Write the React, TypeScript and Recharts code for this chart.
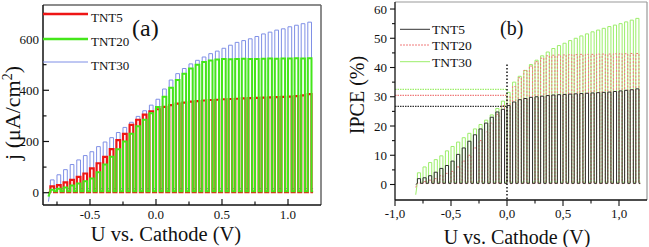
import React from 'react';
import { LineChart, Line, XAxis, YAxis, ReferenceLine } from 'recharts';

// ---------- shared sweep (chopped light, one pulse every 0.05 V) ----------
const pulseStartV = [
  -0.8, -0.75, -0.7, -0.65, -0.6, -0.55, -0.5, -0.45, -0.4, -0.35,
  -0.3, -0.25, -0.2, -0.15, -0.1, -0.05, 0, 0.05, 0.1, 0.15,
  0.2, 0.25, 0.3, 0.35, 0.4, 0.45, 0.5, 0.55, 0.6, 0.65,
  0.7, 0.75, 0.8, 0.85, 0.9, 0.95, 1.0, 1.05, 1.1, 1.15,
];
const lightOnWidthV = 0.028;
const sweepEndV = 1.19;

// ---------- panel (a): photocurrent j (uA/cm2), light-on level per pulse ----------
const jTNT5 = [
  25, 30, 40, 50, 62, 75, 95, 115, 140, 170, 205, 230, 265, 285, 305, 318, 326,
  335, 342, 348, 352, 356, 358, 360, 362, 363,
  365, 366, 367, 368, 369, 370, 371, 372, 373, 374, 375, 377, 380, 385,
];
const jTNT20 = [
  12, 15, 20, 28, 36, 45, 55, 80, 110, 140, 170, 200, 230, 260, 285, 310, 335,
  375, 410, 440, 465, 485, 500, 510, 516, 520,
  522, 521, 522, 523, 522, 522, 523, 524, 523, 524, 524, 525, 524, 525,
];
const jTNT30 = [
  50, 70, 90, 110, 128, 145, 160, 180, 198, 215, 235, 255, 275, 298, 320, 342, 365,
  405, 440, 465, 485, 503, 517, 530, 543, 553,
  564, 576, 587, 594, 601, 610, 620, 627, 635, 640, 648, 654, 660, 666,
];
const jDark = [2, 6, 16]; // TNT5, TNT20, TNT30
const jFirst = [0, -15, -35];

// ---------- panel (b): IPCE (%) light-on level per pulse ----------
const ipceTNT5 = [
  2, 2.3, 3, 4.2, 5.5, 6.5, 8, 10.3, 12.5, 14.8, 17, 19, 21, 23, 24.8, 25.7, 27,
  28.2, 29, 29.4, 29.8, 30, 30.2, 30.4, 30.6, 30.7,
  30.8, 30.9, 31, 31.1, 31.2, 31.3, 31.4, 31.5, 31.6, 31.8, 32, 32.2, 32.4, 32.7,
];
const ipceTNT20 = [
  0.5, 1, 1.5, 2, 3, 3.8, 4.5, 6, 8, 10, 12.5, 15, 18, 21, 24, 27, 30,
  33.5, 36.5, 39, 40.5, 42, 43.2, 44, 44.2, 44.3,
  44.3, 44.4, 44.4, 44.5, 44.5, 44.5, 44.6, 44.6, 44.6, 44.7, 44.7, 44.7, 44.8, 44.8,
];
const ipceTNT30 = [
  4, 6, 7.5, 8.5, 9.8, 11.5, 13, 14.5, 16, 17.5, 19, 20.5, 22, 23.8, 26, 28.5, 31.5,
  35, 37, 39, 41, 42.5, 44, 45.3, 46.5, 47.5,
  48.3, 49.2, 50, 50.8, 51.5, 52.2, 52.8, 53.4, 54, 54.5, 55, 55.6, 56.2, 56.8,
];
const ipceDark = [0.4, 0.3, 0.8];
const ipceFirst = [0, -1, -3.5];
const ipceAtZero = [26.7, 30.5, 32.5]; // TNT5, TNT20, TNT30 read at 0.0 V

// ---------- tick lists ----------
const ticksAX = [-0.75, -0.5, -0.25, 0, 0.25, 0.5, 0.75, 1.0];
const majorAX = [-0.5, 0, 0.5, 1.0];
const ticksAY = [0, 100, 200, 300, 400, 500, 600, 700];
const majorAY = [0, 200, 400, 600];
const ticksBX = [-1, -0.75, -0.5, -0.25, 0, 0.25, 0.5, 0.75, 1.0];
const majorBX = [-1, -0.5, 0, 0.5, 1.0];
const ticksBY = [0, 5, 10, 15, 20, 25, 30, 35, 40, 45, 50, 55, 60];
const majorBY = [0, 10, 20, 30, 40, 50, 60];

const seriesKeys = ['t5', 't20', 't30'];

function buildRows(peaks: number[][], dark: number[], first: number[]) {
  const rows: any[] = [];
  const r0: any = { v: pulseStartV[0] - 0.015 };
  seriesKeys.forEach((k, s) => (r0[k] = first[s]));
  rows.push(r0);
  pulseStartV.forEach((v0, i) => {
    const v1 = v0 + lightOnWidthV;
    const a: any = { v: v0 }, b: any = { v: v0 }, c: any = { v: v1 }, d: any = { v: v1 };
    seriesKeys.forEach((k, s) => {
      a[k] = dark[s];
      b[k] = peaks[s][i];
      c[k] = peaks[s][i];
      d[k] = dark[s];
    });
    rows.push(a, b, c, d);
  });
  const rEnd: any = { v: sweepEndV };
  seriesKeys.forEach((k, s) => (rEnd[k] = dark[s]));
  rows.push(rEnd);
  return rows;
}

const rowsA = buildRows([jTNT5, jTNT20, jTNT30], jDark, jFirst);
const rowsB = buildRows([ipceTNT5, ipceTNT20, ipceTNT30], ipceDark, ipceFirst);

const serif = '"Liberation Serif", "Times New Roman", serif';

const XTickA = (p: any) => {
  const { x, y, payload } = p;
  const major = majorAX.some((m) => Math.abs(m - payload.value) < 1e-6);
  return (
    <g>
      <line x1={x} y1={y} x2={x} y2={y - (major ? 6 : 3.5)} stroke="#111" strokeWidth={1.2} />
      {major && (
        <text x={x} y={y + 14} textAnchor="middle" fontFamily={serif} fontSize={13} fill="#111">
          {payload.value.toFixed(1)}
        </text>
      )}
    </g>
  );
};
const YTickA = (p: any) => {
  const { x, y, payload } = p;
  const major = majorAY.includes(payload.value);
  return (
    <g>
      <line x1={x} y1={y} x2={x + (major ? 6 : 3.5)} y2={y} stroke="#111" strokeWidth={1.2} />
      {major && (
        <text x={x - 4} y={y + 4.5} textAnchor="end" fontFamily={serif} fontSize={13} fill="#111">
          {payload.value}
        </text>
      )}
    </g>
  );
};
const XTickB = (p: any) => {
  const { x, y, payload } = p;
  const major = majorBX.some((m) => Math.abs(m - payload.value) < 1e-6);
  return (
    <g>
      <line x1={x} y1={y} x2={x} y2={y + (major ? 6 : 3.5)} stroke="#111" strokeWidth={1.1} />
      {major && (
        <text x={x} y={y + 18} textAnchor="middle" fontFamily={serif} fontSize={13} fill="#111">
          {payload.value.toFixed(1).replace('.', ',')}
        </text>
      )}
    </g>
  );
};
const YTickB = (p: any) => {
  const { x, y, payload } = p;
  const major = majorBY.includes(payload.value);
  return (
    <g>
      <line x1={x} y1={y} x2={x - (major ? 5 : 3)} y2={y} stroke="#111" strokeWidth={1.1} />
      {major && (
        <text x={x - 8} y={y + 4.5} textAnchor="end" fontFamily={serif} fontSize={13} fill="#111">
          {payload.value}
        </text>
      )}
    </g>
  );
};

const domAX: [number, number] = [-0.856, 1.25];
const domAY: [number, number] = [-48, 733];
const domBX: [number, number] = [-1, 1.25];
const domBY: [number, number] = [-5.3, 62.4];

export default function App() {
  return (
    <div style={{ position: 'absolute', left: 0, top: 0, width: 649, height: 247, background: '#fff' }}>
      <div style={{ position: 'absolute', left: 0, top: 0 }}>
        <LineChart width={325} height={247} data={rowsA} margin={{ top: 5, right: 4, left: 0, bottom: 0 }}>
          <XAxis
            type="number"
            dataKey="v"
            domain={domAX}
            allowDataOverflow
            ticks={ticksAX}
            interval={0}
            tickSize={0}
            tickMargin={0}
            tickLine={false}
            tick={XTickA}
            height={42}
            axisLine={{ stroke: '#111', strokeWidth: 1.5 }}
          />
          <YAxis
            type="number"
            domain={domAY}
            allowDataOverflow
            ticks={ticksAY}
            interval={0}
            tickSize={0}
            tickMargin={0}
            tickLine={false}
            tick={YTickA}
            width={43}
            axisLine={{ stroke: '#111', strokeWidth: 1.5 }}
          />
          <ReferenceLine y={domAY[1]} stroke="#666" strokeWidth={1.5} />
          <ReferenceLine x={domAX[1]} stroke="#666" strokeWidth={1.5} />
          <Line dataKey="t30" stroke="#7f8fe6" strokeWidth={1} dot={false} isAnimationActive={false} type="linear" />
          <Line dataKey="t5" stroke="#ee1515" strokeWidth={2.2} dot={false} isAnimationActive={false} type="linear" />
          <Line dataKey="t20" stroke="#44e61a" strokeWidth={2} dot={false} isAnimationActive={false} type="linear" />
        </LineChart>
      </div>
      <div style={{ position: 'absolute', left: 325, top: 0 }}>
        <LineChart width={324} height={247} data={rowsB} margin={{ top: 2, right: 2, left: 0, bottom: 0 }}>
          <XAxis
            type="number"
            dataKey="v"
            domain={domBX}
            allowDataOverflow
            ticks={ticksBX}
            interval={0}
            tickSize={0}
            tickMargin={0}
            tickLine={false}
            tick={XTickB}
            height={47}
            axisLine={{ stroke: '#111', strokeWidth: 1.3 }}
          />
          <YAxis
            type="number"
            domain={domBY}
            allowDataOverflow
            ticks={ticksBY}
            interval={0}
            tickSize={0}
            tickMargin={0}
            tickLine={false}
            tick={YTickB}
            width={70}
            axisLine={{ stroke: '#111', strokeWidth: 1.3 }}
          />
          <ReferenceLine y={domBY[1]} stroke="#999" strokeWidth={1.2} />
          <ReferenceLine x={domBX[1]} stroke="#999" strokeWidth={1.2} />
          <Line dataKey="t30" stroke="#9cee6a" strokeWidth={1} dot={false} isAnimationActive={false} type="linear" />
          <Line dataKey="t20" stroke="#f07a7a" strokeWidth={1} strokeDasharray="2 1.5" dot={false} isAnimationActive={false} type="linear" />
          <Line dataKey="t5" stroke="#333" strokeWidth={1} dot={false} isAnimationActive={false} type="linear" />
          <ReferenceLine
            segment={[{ x: domBX[0], y: ipceAtZero[2] }, { x: 0, y: ipceAtZero[2] }]}
            stroke="#9cee6a"
            strokeWidth={1.2}
            strokeDasharray="1.5 1"
          />
          <ReferenceLine
            segment={[{ x: domBX[0], y: ipceAtZero[1] }, { x: 0, y: ipceAtZero[1] }]}
            stroke="#f07a7a"
            strokeWidth={1.2}
            strokeDasharray="1.5 1"
          />
          <ReferenceLine
            segment={[{ x: domBX[0], y: ipceAtZero[0] }, { x: 0, y: ipceAtZero[0] }]}
            stroke="#333"
            strokeWidth={1.2}
            strokeDasharray="1.5 1"
          />
          <ReferenceLine
            segment={[{ x: 0, y: 41 }, { x: 0, y: domBY[0] }]}
            stroke="#222"
            strokeWidth={1.6}
            strokeDasharray="1.5 2"
          />
        </LineChart>
      </div>
      <svg
        width={649}
        height={247}
        style={{ position: 'absolute', left: 0, top: 0, pointerEvents: 'none' }}
        fontFamily={serif}
      >
        {/* legend (a) */}
        <line x1={43} x2={88} y1={14} y2={14} stroke="#ee1515" strokeWidth={2.5} />
        <line x1={43} x2={88} y1={39} y2={39} stroke="#44e61a" strokeWidth={2.5} />
        <line x1={43} x2={88} y1={62} y2={62} stroke="#7f8fe6" strokeWidth={1} />
        <text x={91} y={21.5} fontSize={13} fill="#111">TNT5</text>
        <text x={91} y={45.5} fontSize={13} fill="#111">TNT20</text>
        <text x={91} y={70} fontSize={13} fill="#111">TNT30</text>
        <text x={132} y={36} fontSize={24} fill="#111">(a)</text>
        {/* axis titles (a) */}
        <text x={166} y={241} fontSize={20.5} textAnchor="middle" fill="#111">U vs. Cathode (V)</text>
        <text x={20} y={113} fontSize={22} textAnchor="middle" fill="#111" transform="rotate(-90 20 113)">
          j (μA/cm<tspan dy={-8} fontSize={14}>2</tspan><tspan dy={8}>)</tspan>
        </text>
        {/* legend (b) */}
        <line x1={400} x2={430} y1={29.3} y2={29.3} stroke="#333" strokeWidth={1} />
        <line x1={400} x2={430} y1={45} y2={45} stroke="#f07a7a" strokeWidth={1} strokeDasharray="2 1" />
        <line x1={400} x2={430} y1={61.7} y2={61.7} stroke="#9cee6a" strokeWidth={1} />
        <text x={432} y={33.5} fontSize={13.5} fill="#111">TNT5</text>
        <text x={432} y={49.5} fontSize={13.5} fill="#111">TNT20</text>
        <text x={432} y={66.5} fontSize={13.5} fill="#111">TNT30</text>
        <text x={500} y={35} fontSize={20} fill="#111">(b)</text>
        {/* axis titles (b) */}
        <text x={517} y={244} fontSize={20} textAnchor="middle" fill="#111">U vs. Cathode (V)</text>
        <text x={364} y={95} fontSize={20} textAnchor="middle" fill="#111" transform="rotate(-90 364 95)">
          IPCE (%)
        </text>
      </svg>
    </div>
  );
}
